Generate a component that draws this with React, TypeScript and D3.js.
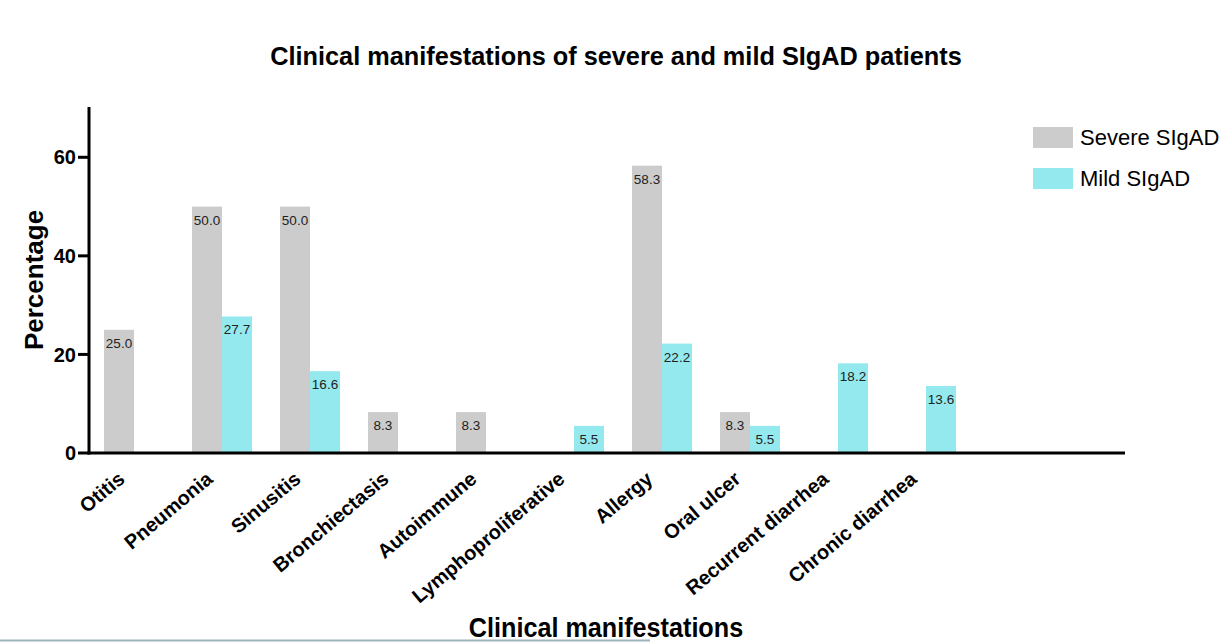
import React from 'react';
import * as d3 from 'd3';

// values (percent of patients)
const categories = [
  'Otitis',
  'Pneumonia',
  'Sinusitis',
  'Bronchiectasis',
  'Autoimmune',
  'Lymphoproliferative',
  'Allergy',
  'Oral ulcer',
  'Recurrent diarrhea',
  'Chronic diarrhea',
];
const severeValues = [25.0, 50.0, 50.0, 8.3, 8.3, 0, 58.3, 8.3, 0, 0];
const mildValues = [0, 27.7, 16.6, 0, 0, 5.5, 22.2, 5.5, 18.2, 13.6];
const seriesNames = ['Severe SIgAD', 'Mild SIgAD'];
const seriesColors = ['#cccccc', '#93e9ed'];
const yTicks = [0, 20, 40, 60];

const W = 1226;
const H = 642;
const FONT = 'Liberation Sans, Arial, Helvetica, sans-serif';

export default function App() {
  const left = 89;
  const bottom = 453;
  const axisEnd = 1125;

  const y = d3.scaleLinear().domain([0, 70]).range([bottom, 108]);

  // step of 88px per group, 60px of bars, 15px gap before the first group
  const x = d3
    .scaleBand<string>()
    .domain(categories)
    .range([left, left + 88 * (10 - 28 / 88 + 30 / 88)])
    .paddingInner(28 / 88)
    .paddingOuter(15 / 88);

  const sub = d3
    .scaleBand<number>()
    .domain([0, 1])
    .range([0, x.bandwidth()]);

  const series = [severeValues, mildValues];

  return (
    <svg
      width={W}
      height={H}
      style={{ position: 'absolute', left: 0, top: 0, background: '#fff' }}
      fontFamily={FONT}
    >
      <text x={616} y={65} textAnchor="middle" fontSize={25.3} fontWeight="bold">
        Clinical manifestations of severe and mild SIgAD patients
      </text>

      {/* bars */}
      {series.map((vals, s) =>
        vals.map((v, i) =>
          v > 0 ? (
            <g key={`${s}-${i}`}>
              <rect
                x={(x(categories[i]) as number) + (sub(s) as number)}
                y={y(v)}
                width={sub.bandwidth()}
                height={bottom - y(v)}
                fill={seriesColors[s]}
              />
              <text
                x={(x(categories[i]) as number) + (sub(s) as number) + sub.bandwidth() / 2}
                y={y(v) + 18}
                textAnchor="middle"
                fontSize={13.5}
                fill="#222"
              >
                {v.toFixed(1)}
              </text>
            </g>
          ) : null
        )
      )}

      {/* y axis */}
      <line x1={left} x2={left} y1={107} y2={bottom + 1.5} stroke="#000" strokeWidth={3} />
      {yTicks.map((t) => (
        <g key={t}>
          <line x1={left - 11} x2={left} y1={y(t)} y2={y(t)} stroke="#000" strokeWidth={3} />
          <text
            x={left - 13}
            y={y(t)}
            dy="0.36em"
            textAnchor="end"
            fontSize={20}
            fontWeight="bold"
          >
            {t}
          </text>
        </g>
      ))}
      <text
        transform={`translate(43,${(107 + bottom) / 2}) rotate(-90)`}
        textAnchor="middle"
        fontSize={26}
        fontWeight="bold"
      >
        Percentage
      </text>

      {/* x axis */}
      <line x1={left - 1.5} x2={axisEnd} y1={bottom} y2={bottom} stroke="#000" strokeWidth={3} />
      {categories.map((c) => (
        <text
          key={c}
          transform={`translate(${(x(c) as number) + x.bandwidth() / 2 - 8},${bottom + 28}) rotate(-40)`}
          textAnchor="end"
          fontSize={20}
          fontWeight="bold"
        >
          {c}
        </text>
      ))}
      <text
        x={606}
        y={637}
        textAnchor="middle"
        fontSize={28}
        fontWeight="bold"
        transform="translate(606,0) scale(0.9,1) translate(-606,0)"
      >
        Clinical manifestations
      </text>

      {/* legend */}
      {seriesNames.map((n, i) => (
        <g key={n} transform={`translate(1033,${127 + i * 41})`}>
          <rect width={40} height={21} fill={seriesColors[i]} />
          <text x={47} y={10.5} dy="0.36em" fontSize={22}>
            {n}
          </text>
        </g>
      ))}

      <line x1={0} x2={650} y1={640.5} y2={640.5} stroke="#9fb3bb" strokeWidth={2} />
    </svg>
  );
}
